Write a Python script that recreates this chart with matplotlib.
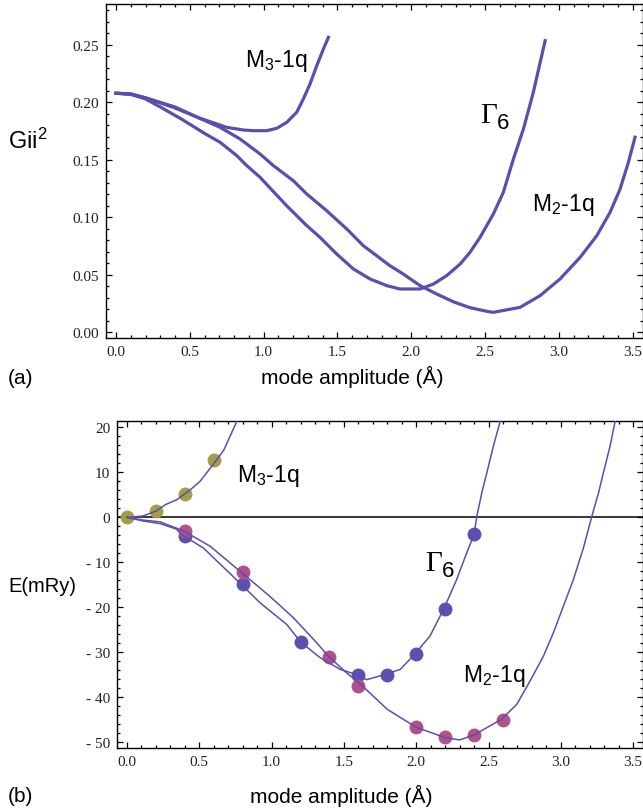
import numpy as np
import matplotlib
matplotlib.use("Agg")
import matplotlib.pyplot as plt
from matplotlib.ticker import MultipleLocator, FuncFormatter

# Panel (a): Gii^2 vs mode amplitude
a_x_m3 = [0.0, 0.1, 0.185, 0.388, 0.569, 0.750, 0.862, 0.930, 1.021, 1.089, 1.157,
          1.224, 1.269, 1.314, 1.360, 1.405, 1.439]
a_y_m3 = [0.208, 0.2075, 0.2045, 0.1957, 0.1862, 0.1783, 0.1760, 0.1754, 0.1754, 0.1775, 0.1827,
          0.1914, 0.2030, 0.2160, 0.2320, 0.2465, 0.2567]

a_x_g6 = [0.0, 0.1, 0.2, 0.3, 0.45, 0.6, 0.705, 0.818, 0.886, 0.976, 1.156, 1.292, 1.382, 1.495,
          1.608, 1.721, 1.834, 1.924, 2.060, 2.150, 2.240, 2.331, 2.398, 2.466, 2.556, 2.624,
          2.692, 2.760, 2.827, 2.907]
a_y_g6 = [0.208, 0.207, 0.203, 0.196, 0.185, 0.173, 0.1653, 0.1537, 0.1450, 0.1348, 0.1101, 0.0928, 0.0826, 0.0681,
          0.0551, 0.0464, 0.0406, 0.0377, 0.0377, 0.0420, 0.0493, 0.0594, 0.0696, 0.0826, 0.1029, 0.1218,
          0.1508, 0.1769, 0.2088, 0.2537]

a_x_m2 = [0.0, 0.1, 0.2, 0.4, 0.57, 0.705, 0.840, 0.976, 1.066, 1.201, 1.292, 1.427, 1.563, 1.676,
          1.766, 1.856, 1.946, 2.060, 2.173, 2.285, 2.398, 2.511, 2.556, 2.737, 2.873, 3.008,
          3.144, 3.257, 3.347, 3.415, 3.471, 3.516]
a_y_m2 = [0.208, 0.207, 0.204, 0.196, 0.186, 0.1783, 0.1682, 0.1551, 0.1450, 0.1319, 0.1203, 0.1058, 0.0899, 0.0753,
          0.0666, 0.0579, 0.0507, 0.0406, 0.0333, 0.0266, 0.0214, 0.0183, 0.0174, 0.0217, 0.0319, 0.0464,
          0.0652, 0.0841, 0.1044, 0.1247, 0.1479, 0.1697]

# Panel (b): E(mRy) vs mode amplitude, fitted curves
b_x_m3 = [0.0, 0.11, 0.2, 0.27, 0.343, 0.44, 0.505, 0.57, 0.62, 0.67, 0.712, 0.76]
b_y_m3 = [0.0, 0.3, 1.4, 2.9, 3.9, 6.2, 8.0, 10.7, 12.8, 15.0, 18.0, 21.4]

b_x_g6 = [0.0, 0.11, 0.23, 0.34, 0.39, 0.528, 0.79, 0.92, 1.104, 1.2, 1.335, 1.473, 1.59, 1.658,
          1.78, 1.89, 1.99, 2.095, 2.19, 2.28, 2.349, 2.40, 2.418, 2.453, 2.488, 2.533, 2.58]
b_y_g6 = [0.0, -0.8, -1.4, -2.6, -4.1, -6.8, -14.9, -19.0, -23.8, -27.7, -31.2, -33.8, -35.0, -36.1,
          -35.0, -33.8, -30.4, -26.4, -20.4, -13.8, -7.9, -3.8, 0.1, 5.4, 9.9, 15.8, 21.3]

b_x_m2 = [0.0, 0.11, 0.23, 0.39, 0.574, 0.79, 0.989, 1.15, 1.312, 1.39, 1.519, 1.611, 1.80, 2.0, 2.2,
          2.30, 2.40, 2.59, 2.695, 2.787, 2.879, 2.948, 3.017, 3.087, 3.156, 3.213, 3.260, 3.294,
          3.340, 3.375]
b_y_m2 = [0.0, -0.6, -1.0, -3.0, -6.4, -12.2, -17.6, -22.3, -27.9, -30.8, -34.6, -37.0, -42.7, -46.7, -49.0,
          -49.5, -48.4, -44.9, -41.6, -36.4, -30.9, -25.7, -19.8, -13.8, -6.8, 0.1, 5.4, 9.9,
          15.8, 21.3]

# Panel (b): calculated points
pt_x_m3 = [0.0, 0.2, 0.4, 0.6]
pt_y_m3 = [0.0, 1.5, 5.3, 12.7]
pt_x_g6 = [0.4, 0.8, 1.2, 1.6, 1.8, 2.0, 2.2, 2.4]
pt_y_g6 = [-4.2, -14.9, -27.7, -35.1, -35.0, -30.4, -20.4, -3.8]
pt_x_m2 = [0.4, 0.8, 1.4, 1.6, 2.0, 2.2, 2.4, 2.6]
pt_y_m2 = [-3.0, -12.1, -31.0, -37.4, -46.7, -48.9, -48.5, -45.0]

line_col = "#5a4fae"
olive = "#a39d45"
magenta = "#b2508a"
blue = "#5c50b0"

plt.rcParams["mathtext.fontset"] = "custom"
plt.rcParams["mathtext.rm"] = "Liberation Sans"
plt.rcParams["mathtext.sf"] = "Liberation Sans"
plt.rcParams["mathtext.it"] = "Liberation Sans:italic"

sans = "Liberation Sans"
serif = "Liberation Serif"

fig = plt.figure(figsize=(6.43, 8.12), dpi=100)
ax_a = fig.add_axes([106/643, 1 - 339.3/812, (643 - 106)/643, (339.3 - 5)/812])
ax_b = fig.add_axes([117.3/643, 1 - 749/812, (643 - 117.3)/643, (749 - 421.7)/812])


def style_axes(ax):
    ax.tick_params(which="both", direction="in", top=True, right=True,
                   width=0.9, colors="black", labelsize=11, pad=5)
    ax.tick_params(which="major", length=4.5)
    ax.tick_params(which="minor", length=2.3)
    for lab in ax.get_xticklabels() + ax.get_yticklabels():
        lab.set_fontfamily(serif)
        lab.set_color("#222222")
    for s in ax.spines.values():
        s.set_linewidth(1.0)


def gamma_label(ax, xg, yg, x6, y6):
    # serif capital Gamma with a sans "6" set lower right
    ax.text(xg, yg, "Γ", family=serif, fontsize=21, ha="left", va="baseline")
    ax.text(x6, y6, "6", family=sans, fontsize=16, ha="left", va="baseline")


# ---- panel (a)
ax_a.plot(a_x_m3, a_y_m3, color=line_col, lw=2.3)
ax_a.plot(a_x_g6, a_y_g6, color=line_col, lw=2.3)
ax_a.plot(a_x_m2, a_y_m2, color=line_col, lw=2.3)
ax_a.set_xlim(-0.068, 3.57)
ax_a.set_ylim(-0.0052, 0.2856)
ax_a.xaxis.set_major_locator(MultipleLocator(0.5))
ax_a.xaxis.set_minor_locator(MultipleLocator(0.1))
ax_a.yaxis.set_major_locator(MultipleLocator(0.05))
ax_a.yaxis.set_minor_locator(MultipleLocator(0.01))
ax_a.xaxis.set_major_formatter(FuncFormatter(lambda v, p: f"{v:.1f}"))
ax_a.yaxis.set_major_formatter(FuncFormatter(lambda v, p: f"{v:.2f}"))
style_axes(ax_a)

ax_a.text(0.874, 0.232, r"M$_{3}$-1q", family=sans, fontsize=16.5,
          ha="left", va="baseline")
gamma_label(ax_a, 2.466, 0.1827, 2.579, 0.1775)
ax_a.text(2.816, 0.1067, r"M$_{2}$-1q", family=sans, fontsize=16.5,
          ha="left", va="baseline")

# ---- panel (b)
ax_b.axhline(0, color="black", lw=1.1, zorder=1)
ax_b.plot(pt_x_m3, pt_y_m3, "o", color=olive, ms=10, mec="none", zorder=2)
ax_b.plot(pt_x_g6, pt_y_g6, "o", color=blue, ms=10, mec="none", zorder=2)
ax_b.plot(pt_x_m2, pt_y_m2, "o", color=magenta, ms=10, mec="none", zorder=2)
ax_b.plot(b_x_m3, b_y_m3, color=line_col, lw=1.1, zorder=3)
ax_b.plot(b_x_g6, b_y_g6, color=line_col, lw=1.1, zorder=3)
ax_b.plot(b_x_m2, b_y_m2, color=line_col, lw=1.1, zorder=3)
ax_b.set_xlim(-0.067, 3.568)
ax_b.set_ylim(-51.3, 21.5)
ax_b.xaxis.set_major_locator(MultipleLocator(0.5))
ax_b.xaxis.set_minor_locator(MultipleLocator(0.1))
ax_b.yaxis.set_major_locator(MultipleLocator(10))
ax_b.yaxis.set_minor_locator(MultipleLocator(2))
ax_b.xaxis.set_major_formatter(FuncFormatter(lambda v, p: f"{v:.1f}"))
ax_b.yaxis.set_major_formatter(FuncFormatter(
    lambda v, p: f"- {abs(v):.0f}" if v < -0.5 else f"{v:.0f}"))
style_axes(ax_b)

ax_b.text(0.759, 8.0, r"M$_{3}$-1q", family=sans, fontsize=16.5,
          ha="left", va="baseline")
gamma_label(ax_b, 2.061, -11.6, 2.176, -13.1)
ax_b.text(2.326, -36.4, r"M$_{2}$-1q", family=sans, fontsize=16.5,
          ha="left", va="baseline")

# axis labels and panel tags
fig.text(8/643, 1 - 141/812, r"Gii$^{2}$", family=sans, fontsize=17,
         ha="left", va="center")
fig.text(8/643, 1 - 587/812, "E(mRy)", family=sans, fontsize=14.5,
         ha="left", va="center")
fig.text(352/643, 1 - 377/812, "mode amplitude (Å)", family=sans, fontsize=15,
         ha="center", va="center")
fig.text(341/643, 1 - 796/812, "mode amplitude (Å)", family=sans, fontsize=15,
         ha="center", va="center")
fig.text(8/643, 1 - 379/812, "(a)", family=sans, fontsize=15,
         ha="left", va="center")
fig.text(8/643, 1 - 797/812, "(b)", family=sans, fontsize=15,
         ha="left", va="center")

fig.savefig("out.png", dpi=100)
